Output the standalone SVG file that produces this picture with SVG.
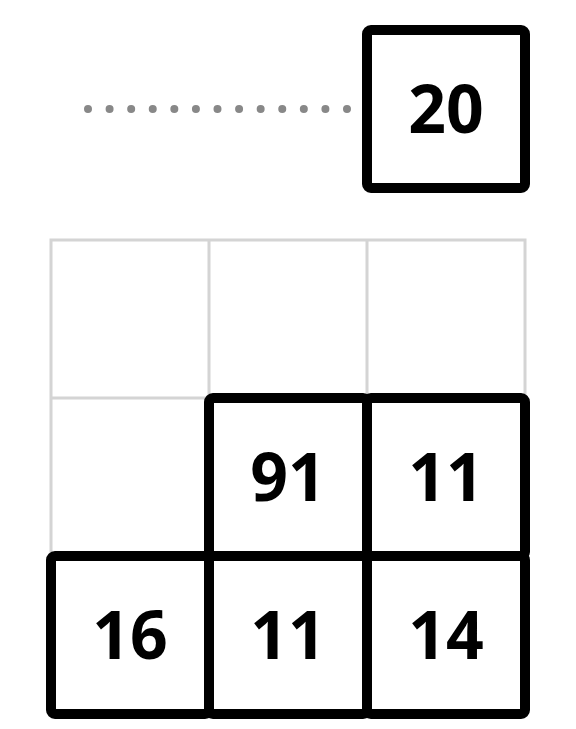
<svg xmlns="http://www.w3.org/2000/svg" width="576" height="729" viewBox="0 0 576 729">
<style>
.grid{fill:none;stroke:#d4d4d4;stroke-width:3}
.cell{fill:#fff;stroke:#000;stroke-width:10;stroke-linejoin:round}
.num{font-family:"Open Sans","Noto Sans","DejaVu Sans",sans-serif;font-weight:bold;font-size:66px;fill:#000;text-anchor:middle}
.dots{stroke:#888;stroke-width:8;stroke-linecap:round;stroke-dasharray:0 21.583;fill:none}
</style>
<rect width="576" height="729" fill="#fff"/>
<g id="grid">
<rect class="grid" x="51" y="240" width="474" height="474"/>
<line class="grid" x1="209" y1="240" x2="209" y2="714"/>
<line class="grid" x1="367" y1="240" x2="367" y2="714"/>
<line class="grid" x1="51" y1="398" x2="525" y2="398"/>
<line class="grid" x1="51" y1="556" x2="525" y2="556"/>
</g>
<g id="connectors">
<line class="dots" x1="88" y1="109" x2="347" y2="109"/>
</g>
<g id="node-20">
<rect class="cell" x="367" y="30" width="158" height="158" rx="4"/>
<text class="num" x="446" y="133">20</text>
</g>
<g id="cell-91">
<rect class="cell" x="209" y="398" width="158" height="158" rx="4"/>
<text class="num" x="288" y="501">91</text>
</g>
<g id="cell-11a">
<rect class="cell" x="367" y="398" width="158" height="158" rx="4"/>
<text class="num" x="446" y="501">11</text>
</g>
<g id="cell-16">
<rect class="cell" x="51" y="556" width="158" height="158" rx="4"/>
<text class="num" x="130" y="659">16</text>
</g>
<g id="cell-11b">
<rect class="cell" x="209" y="556" width="158" height="158" rx="4"/>
<text class="num" x="288" y="659">11</text>
</g>
<g id="cell-14">
<rect class="cell" x="367" y="556" width="158" height="158" rx="4"/>
<text class="num" x="446" y="659">14</text>
</g>
</svg>
